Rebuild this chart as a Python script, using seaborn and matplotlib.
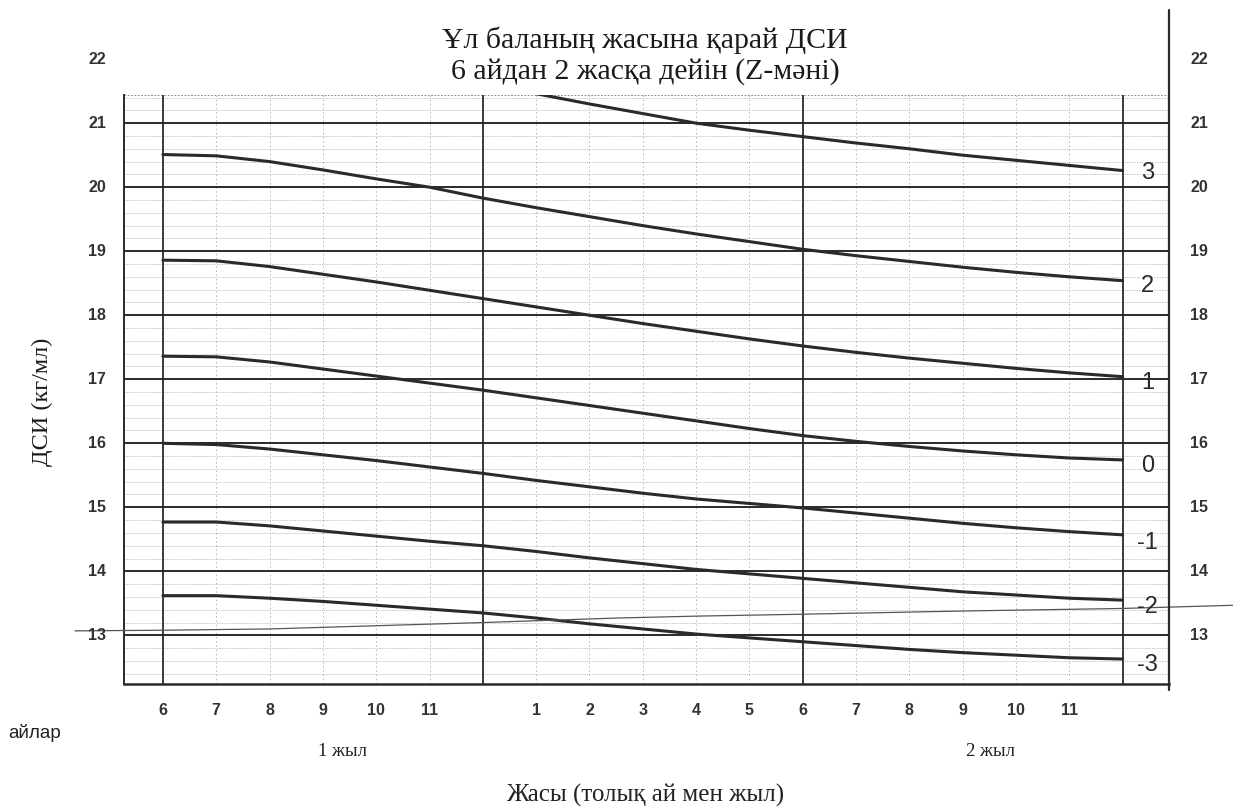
import numpy as np
import pandas as pd
import matplotlib
matplotlib.use("Agg")
import matplotlib.pyplot as plt
import matplotlib.transforms as mtransforms
import seaborn as sns

# ---- data -------------------------------------------------------------
months = list(range(6, 25))

# BMI reference curves (kg/m2) for boys, 6 months .. 2 years
curve_p3 = [21.46, 21.30, 21.15, 21.00, 20.89, 20.79, 20.69, 20.60, 20.50, 20.42, 20.34, 20.26]  # months 13..24
curve_p2 = [20.51, 20.49, 20.40, 20.27, 20.13, 20.00, 19.83, 19.68, 19.54, 19.40, 19.27, 19.15, 19.03,
            18.93, 18.84, 18.75, 18.67, 18.60, 18.54]
curve_p1 = [18.86, 18.85, 18.76, 18.64, 18.52, 18.39, 18.26, 18.13, 18.00, 17.87, 17.75, 17.63, 17.52,
            17.42, 17.33, 17.25, 17.17, 17.10, 17.04]
curve_0 = [17.36, 17.35, 17.27, 17.16, 17.05, 16.94, 16.83, 16.71, 16.59, 16.47, 16.35, 16.23, 16.12,
           16.03, 15.95, 15.88, 15.82, 15.77, 15.74]
curve_m1 = [16.00, 15.98, 15.91, 15.82, 15.73, 15.63, 15.53, 15.42, 15.32, 15.22, 15.13, 15.06, 14.99,
            14.91, 14.83, 14.75, 14.68, 14.62, 14.57]
curve_m2 = [14.77, 14.77, 14.71, 14.63, 14.55, 14.47, 14.40, 14.31, 14.21, 14.12, 14.03, 13.96, 13.89,
            13.82, 13.75, 13.68, 13.63, 13.58, 13.55]
curve_m3 = [13.62, 13.62, 13.58, 13.53, 13.47, 13.41, 13.35, 13.27, 13.18, 13.10, 13.02, 12.96, 12.90,
            12.84, 12.78, 12.73, 12.69, 12.65, 12.63]
curve_p3_months = list(range(13, 25))

# thin hand-drawn stroke across the lower part of the chart
stroke_months = [4.35, 6, 8, 10, 12, 14.5, 16, 18, 21, 24, 26.1]
stroke_values = [13.07, 13.08, 13.10, 13.15, 13.20, 13.27, 13.30, 13.33, 13.38, 13.42, 13.47]

z_labels = ["3", "2", "1", "0", "-1", "-2", "-3"]
month_tick_pos = [6, 7, 8, 9, 10, 11, 13, 14, 15, 16, 17, 18, 19, 20, 21, 22, 23]
month_tick_lbl = ["6", "7", "8", "9", "10", "11", "1", "2", "3", "4", "5", "6", "7", "8", "9", "10", "11"]
bmi_ticks = list(range(13, 23))

# ---- long-form table for seaborn -------------------------------------
frames = []
for name, xs, ys in [
    ("3", curve_p3_months, curve_p3),
    ("2", months, curve_p2),
    ("1", months, curve_p1),
    ("0", months, curve_0),
    ("-1", months, curve_m1),
    ("-2", months, curve_m2),
    ("-3", months, curve_m3),
]:
    frames.append(pd.DataFrame({"month": xs, "bmi": ys, "z": name}))
df = pd.concat(frames, ignore_index=True)

# ---- figure -----------------------------------------------------------
sns.set_theme(style="white")
plt.rcParams["font.family"] = ["Liberation Sans", "DejaVu Sans"]

W, H = 1233, 809
fig = plt.figure(figsize=(W / 100, H / 100), dpi=100)
L, R, T, B = 124, 1169, 95, 684
ax = fig.add_axes([L / W, 1 - B / H, (R - L) / W, (B - T) / H])
ax.set_xlim(5.27, 24.87)
ax.set_ylim(12.24, 21.44)

ink = "#2a2a2a"

# minor grid
for y in np.arange(12.4, 21.41, 0.2):
    if abs(y - round(y)) > 0.05:
        ax.axhline(y, color="#9a9a9a", lw=0.6, ls=(0, (1.5, 1.5)), alpha=0.75, zorder=1)
for m in range(6, 25):
    if m % 6:
        ax.axvline(m, color="#a0a0a0", lw=0.6, ls=(0, (2, 3)), alpha=0.8, zorder=1)

# major grid
for y in range(13, 22):
    ax.axhline(y, color=ink, lw=1.4, zorder=2)
for m in (6, 12, 18, 24):
    ax.axvline(m, color=ink, lw=1.3, zorder=2)

sns.lineplot(data=df, x="month", y="bmi", hue="z", units="z", estimator=None,
             palette=[ink] * 7, legend=False, lw=2.2, ax=ax, zorder=3)

ax.plot(stroke_months, stroke_values, color="#555555", lw=0.9, clip_on=False, zorder=3)

# frame
for side in ("top", "right"):
    ax.spines[side].set_visible(False)
ax.spines["left"].set_color(ink)
ax.spines["left"].set_linewidth(1.4)
ax.spines["bottom"].set_color(ink)
ax.spines["bottom"].set_linewidth(1.8)
ax.axhline(21.44, color="#8a8a8a", lw=0.8, ls=(0, (1.5, 1.5)), zorder=1)
ax.plot([1, 1], [-0.01, (B - 10) / (B - T)], transform=ax.transAxes, color=ink,
        lw=1.6, clip_on=False, zorder=4)

# z-score labels
ends = [curve_p3[-1], curve_p2[-1], curve_p1[-1], curve_0[-1], curve_m1[-1], curve_m2[-1], curve_m3[-1]]
label_shift = [-0.04, -0.08, -0.1, -0.1, -0.12, -0.1, -0.1]
for lab, e, s in zip(z_labels, ends, label_shift):
    ax.text(24.47, e + s, lab, ha="center", va="center", fontsize=17, color=ink)

# value labels on both sides
blend = mtransforms.blended_transform_factory(ax.transAxes, ax.transData)
for v in bmi_ticks:
    ax.text((97 - L) / (R - L), v, str(v), transform=blend, ha="center", va="center",
            fontsize=11.5, fontweight="bold", color="#333333", clip_on=False)
    ax.text((1199 - L) / (R - L), v, str(v), transform=blend, ha="center", va="center",
            fontsize=11.5, fontweight="bold", color="#333333", clip_on=False)
ax.set_yticks([])
ax.set_ylabel("")
ax.set_xlabel("")

ax.set_xticks(month_tick_pos)
ax.set_xticklabels(month_tick_lbl, fontsize=11.5, fontweight="bold", color="#333333")
ax.tick_params(axis="x", length=0, pad=14)

serif = ["Liberation Serif", "DejaVu Serif"]
fig.text(645 / W, 1 - 40 / H, "Ұл баланың жасына қарай ДСИ", ha="center", va="center",
         fontsize=21.5, family=serif, color="#1a1a1a")
fig.text(645 / W, 1 - 72 / H, "6 айдан 2 жасқа дейін (Z-мәні)", ha="center", va="center",
         fontsize=21.5, family=serif, color="#1a1a1a")
fig.text(42 / W, 1 - 402 / H, "ДСИ (кг/мл)", ha="center", va="center", rotation=90,
         fontsize=17.5, family=serif, color="#1a1a1a")
fig.text(35 / W, 1 - 733 / H, "айлар", ha="center", va="center", fontsize=13.5, color="#222222")
fig.text(343 / W, 1 - 752 / H, "1 жыл", ha="center", va="center", fontsize=13.5,
         family=serif, color="#222222")
fig.text(990 / W, 1 - 752 / H, "2 жыл", ha="center", va="center", fontsize=13.5,
         family=serif, color="#222222")
fig.text(645 / W, 1 - 795 / H, "Жасы (толық ай мен жыл)", ha="center", va="center",
         fontsize=18, family=serif, color="#222222")

fig.savefig("out.png", dpi=100, facecolor="white")
